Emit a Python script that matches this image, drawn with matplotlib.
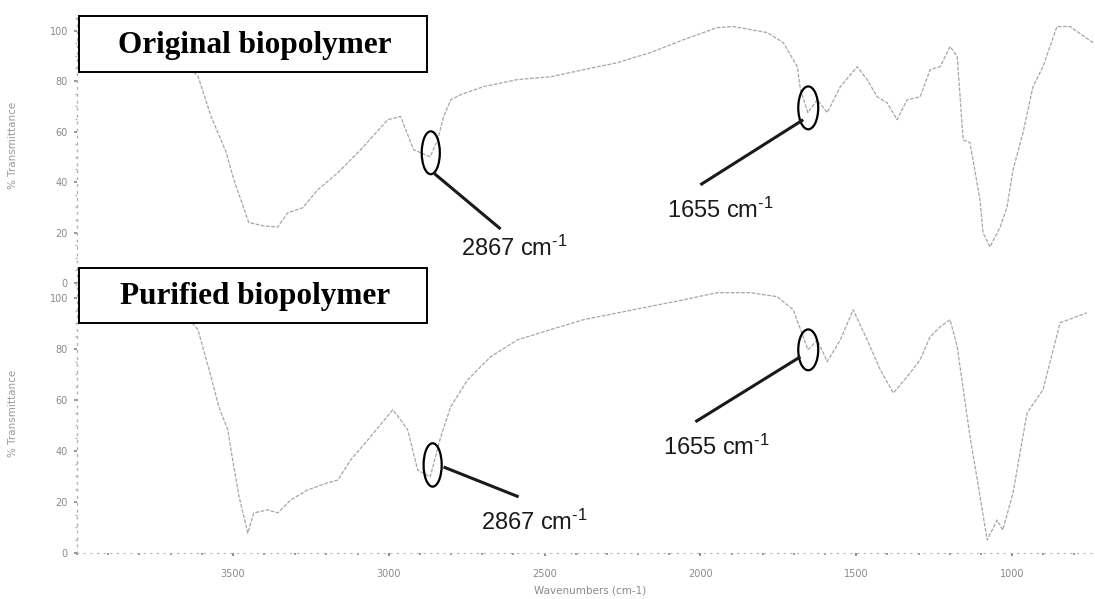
import matplotlib
matplotlib.use("Agg")
import matplotlib.pyplot as plt
from matplotlib.patches import Ellipse, Rectangle
from matplotlib.ticker import MultipleLocator

plt.rcParams['mathtext.fontset'] = 'custom'
plt.rcParams['mathtext.rm'] = 'Liberation Sans'
plt.rcParams['mathtext.it'] = 'Liberation Sans'

# ---------------- data ----------------
orig_wn = [4000, 3900, 3800, 3700, 3612, 3570, 3522, 3497, 3449, 3401, 3356, 3324,
           3276, 3228, 3163, 3090, 3003, 2962, 2920, 2897, 2867, 2843, 2824, 2801,
           2769, 2696, 2587, 2481, 2375, 2266, 2160, 2054, 1946, 1894, 1785, 1734,
           1689, 1679, 1655, 1625, 1593, 1551, 1497, 1465, 1433, 1401, 1369, 1337,
           1295, 1263, 1231, 1199, 1176, 1157, 1135, 1103, 1093, 1071, 1038, 1016,
           997, 965, 933, 901, 856, 814, 740]
orig_t = [96, 96, 95, 92, 82, 66, 52, 41, 24, 22.6, 22.2, 27.8,
          29.8, 36.9, 43.7, 52.8, 64.7, 66, 52.8, 51.6, 50, 56.7, 65.9, 72.6,
          74.6, 77.8, 80.6, 81.7, 84.5, 87.3, 91.3, 96.4, 101.2, 101.6, 99.2, 95.2,
          85.7, 76.6, 67.5, 72.6, 67.5, 77.8, 85.7, 80.6, 73.8, 71.4, 64.7, 72.6,
          73.8, 84.5, 85.7, 93.7, 89.7, 56.7, 55.6, 32.9, 19.8, 14.3, 22.2, 30.2,
          44.8, 59.5, 77.8, 85.7, 101.6, 101.6, 95.2]

pur_wn = [4000, 3800, 3700, 3650, 3612, 3570, 3545, 3516, 3506, 3480, 3452, 3433,
          3388, 3356, 3314, 3260, 3196, 3163, 3122, 3067, 2987, 2962, 2939, 2907,
          2867, 2833, 2801, 2747, 2673, 2587, 2481, 2375, 2215, 2054, 1946, 1840,
          1753, 1702, 1655, 1625, 1593, 1551, 1510, 1465, 1423, 1381, 1337, 1295,
          1263, 1231, 1199, 1176, 1135, 1110, 1080, 1048, 1030, 997, 952, 901,
          846, 760]
pur_t = [98, 98, 96, 93, 87.5, 69, 57.3, 48.2, 40.4, 22, 7.8, 15.7,
         16.9, 15.7, 20.8, 24.7, 27.5, 28.6, 36.5, 44.3, 56.1, 52.2, 48.2, 32.5,
         29.8, 45.5, 57.3, 67.8, 76.9, 83.5, 87.5, 91.4, 95.3, 99.2, 102, 102,
         100.4, 95.3, 79.6, 83.5, 75, 83.5, 95.3, 83.5, 71.8, 62.7, 69, 75.7,
         84.7, 88.6, 91.4, 80.8, 45.5, 27.5, 5.1, 12.9, 9, 23.5, 54.9, 63.9,
         90.2, 94.1]

panel_titles = ["Original biopolymer", "Purified biopolymer"]
peak_labels = ["2867 cm$^{\\text{-1}}$", "1655 cm$^{\\text{-1}}$"]
y_ticks = [0, 20, 40, 60, 80, 100]
x_ticks = [3500, 3000, 2500, 2000, 1500, 1000]

# ---------------- figure ----------------
W, H = 1095, 599
fig = plt.figure(figsize=(W / 100, H / 100), dpi=100)

def fx(px):
    return px / W

def fy(py):
    return 1 - py / H

XL = (4000, 734)
YL = (0, 105)
ax_top = fig.add_axes([fx(77), fy(283), fx(1095) - fx(77), fy(18) - fy(283)])
ax_bot = fig.add_axes([fx(77), fy(553), fx(1095) - fx(77), fy(285) - fy(553)])

for ax, wn, t in [(ax_top, orig_wn, orig_t), (ax_bot, pur_wn, pur_t)]:
    ax.plot(wn, t, color='#a6a6a6', lw=0.9, ls=(0, (3, 1.2)))
    ax.set_xlim(*XL)
    ax.set_ylim(*YL)
    ax.set_facecolor('none')
    for s in ['top', 'right', 'bottom']:
        ax.spines[s].set_visible(False)
    ax.spines['left'].set_linestyle((0, (1, 4)))
    ax.spines['left'].set_color('#b0b0b0')
    ax.spines['left'].set_linewidth(1.0)
    ax.set_yticks(y_ticks)
    ax.yaxis.set_minor_locator(MultipleLocator(5))
    ax.tick_params(axis='y', which='major', length=2.5, width=1.3, color='#909090',
                   labelsize=7, labelcolor='#8a8a8a', pad=4)
    ax.tick_params(axis='y', which='minor', length=1.2, width=1, color='#b5b5b5')
    ax.set_ylabel('% Transmittance', fontsize=7.5, color='#9a9a9a')
    ax.yaxis.set_label_coords(-0.058, 0.52)

ax_top.set_xticks([])
ax_top.tick_params(axis='x', which='both', length=0, labelbottom=False)

ax_bot.spines['bottom'].set_visible(True)
ax_bot.spines['bottom'].set_linestyle((0, (1, 5)))
ax_bot.spines['bottom'].set_color('#b5b5b5')
ax_bot.set_xticks(x_ticks)
ax_bot.xaxis.set_minor_locator(MultipleLocator(100))
ax_bot.tick_params(axis='x', which='major', length=2.5, width=1.3, color='#808080',
                   labelsize=7, labelcolor='#8a8a8a', pad=9)
ax_bot.tick_params(axis='x', which='minor', length=1.5, width=1.3, color='#909090')
ax_bot.set_xlabel('Wavenumbers (cm-1)', fontsize=7.5, color='#8a8a8a')
ax_bot.xaxis.set_label_coords(0.504, -0.122)

# ---------------- title boxes ----------------
for (y0, y1), title in zip([(16, 72), (268, 323)], panel_titles):
    fig.patches.append(Rectangle((fx(79), fy(y1)), fx(427) - fx(79), fy(y0) - fy(y1),
                                 transform=fig.transFigure, facecolor='white',
                                 edgecolor='black', lw=1.4, zorder=5))
    fig.text(fx(79 + 427) / 2 + 0.002, fy((y0 + y1) / 2) - 0.002, title,
             family='Liberation Serif', weight='bold', fontsize=22.5,
             ha='center', va='center', zorder=6)

# ---------------- peak annotations ----------------
# (ellipse centre wn, ellipse centre T, ellipse w, h, line start, line end, text pos)
annots = {
    ax_top: [
        (2865, 51.6, 58, 17, (2853, 43.3), (2641, 21.4), (2769, 13.9), peak_labels[0]),
        (1654, 69.4, 64, 17, (1670, 64.7), (2000, 38.9), (2106, 29.0), peak_labels[1]),
    ],
    ax_bot: [
        (2859, 34.5, 58, 17, (2824, 33.7), (2583, 22.0), (2705, 12.2), peak_labels[0]),
        (1654, 79.6, 64, 16, (1679, 76.9), (2016, 51.4), (2119, 41.6), peak_labels[1]),
    ],
}
for ax, items in annots.items():
    for cx, cy, w, h, p0, p1, tp, lab in items:
        ax.add_patch(Ellipse((cx, cy), w, h, fill=False, edgecolor='black', lw=1.6,
                             zorder=4, clip_on=False))
        ax.plot([p0[0], p1[0]], [p0[1], p1[1]], color='#1a1a1a', lw=2.2,
                solid_capstyle='butt', zorder=4, clip_on=False)
        ax.text(tp[0], tp[1], lab, family='Liberation Sans', fontsize=17,
                ha='left', va='center', color='#1a1a1a', zorder=4, clip_on=False)

fig.savefig('out.png', dpi=100)
